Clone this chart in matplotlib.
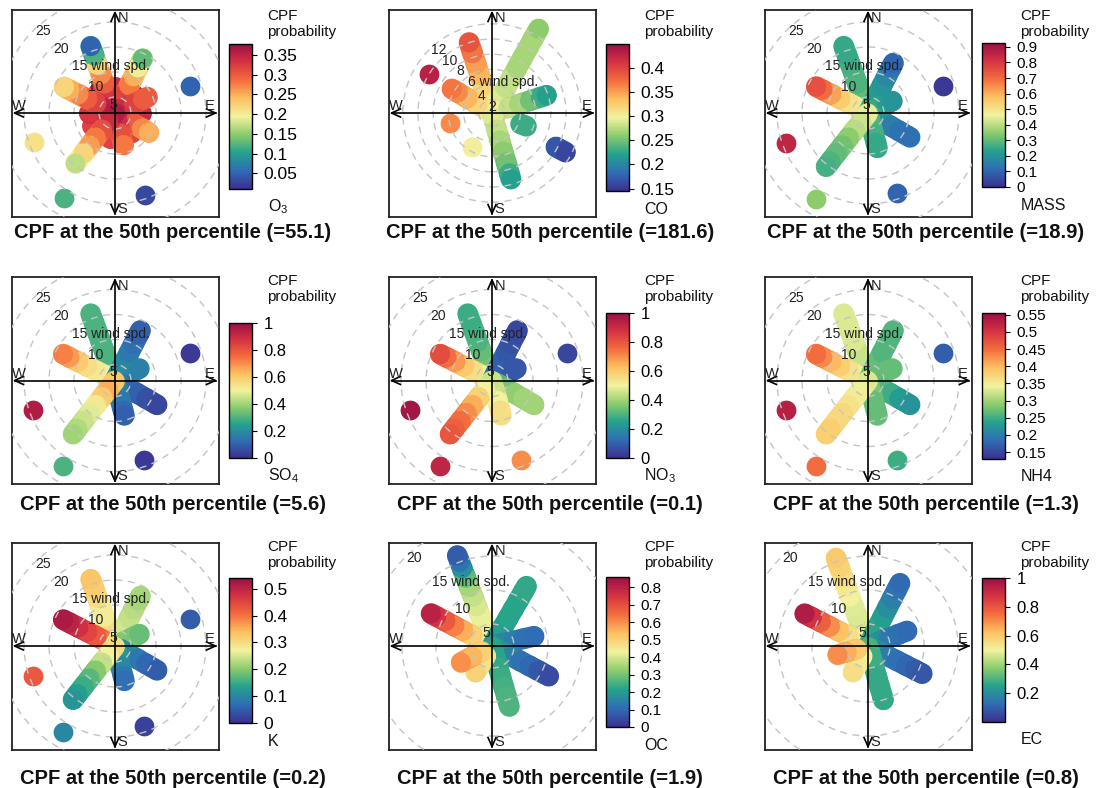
import matplotlib
matplotlib.use("Agg")
import matplotlib.pyplot as plt
import numpy as np
from matplotlib.colors import LinearSegmentedColormap, Normalize
from matplotlib.cm import ScalarMappable
from matplotlib.collections import LineCollection
from matplotlib.patches import Circle

plt.rcParams["font.family"] = ["Liberation Sans", "DejaVu Sans"]
plt.rcParams["mathtext.fontset"] = "custom"
plt.rcParams["mathtext.rm"] = "Liberation Sans"
plt.rcParams["mathtext.default"] = "regular"

# ---- data: wind direction (deg), wind speed samples, CPF probability ----
# shared ray layout for MASS, SO4, NO3, NH4, K
RAY_DIR_A = [340, 297, 27, 64, 120, 165, 218, 70, 250, 160, 211]
RAY_WS_A = [
    [2, 4, 6, 8, 10, 12, 14, 16],
    [2, 4, 6, 8, 10, 12, 13.4],
    [2, 4, 6, 8, 10, 12, 13],
    [2, 4, 6, 7.2],
    [3, 5, 7, 9, 11.5],
    [2, 4, 6, 8, 9],
    [2, 4, 6, 8, 10, 12, 14, 15.4],
    [17.8], [19.2], [18.8], [21.8],
]

MASS_CPF = [
    [0.32, 0.30, 0.30, 0.28, 0.28, 0.27, 0.25, 0.25],
    [0.40, 0.45, 0.50, 0.55, 0.62, 0.70, 0.75],
    [0.28, 0.25, 0.22, 0.20, 0.17, 0.13, 0.10],
    [0.28, 0.25, 0.22, 0.20],
    [0.25, 0.20, 0.15, 0.13, 0.12],
    [0.30, 0.28, 0.27, 0.25, 0.25],
    [0.45, 0.42, 0.40, 0.35, 0.32, 0.30, 0.28, 0.27],
    [0.02], [0.85], [0.10], [0.35],
]
SO4_CPF = [
    [0.35, 0.32, 0.30, 0.30, 0.30, 0.30, 0.30, 0.30],
    [0.45, 0.50, 0.52, 0.55, 0.60, 0.68, 0.72],
    [0.22, 0.20, 0.18, 0.15, 0.13, 0.10, 0.10],
    [0.22, 0.20, 0.18, 0.17],
    [0.15, 0.12, 0.10, 0.07, 0.05],
    [0.20, 0.18, 0.15, 0.12, 0.10],
    [0.60, 0.65, 0.60, 0.52, 0.48, 0.45, 0.42, 0.40],
    [0.02], [0.95], [0.02], [0.30],
]
NO3_CPF = [
    [0.45, 0.40, 0.35, 0.33, 0.30, 0.30, 0.28, 0.28],
    [0.45, 0.50, 0.55, 0.60, 0.68, 0.75, 0.82],
    [0.15, 0.12, 0.10, 0.08, 0.07, 0.06, 0.05],
    [0.12, 0.10, 0.08, 0.08],
    [0.30, 0.35, 0.38, 0.40, 0.40],
    [0.40, 0.45, 0.50, 0.55, 0.55],
    [0.45, 0.50, 0.58, 0.65, 0.70, 0.75, 0.78, 0.80],
    [0.05], [0.98], [0.70], [0.92],
]
NH4_CPF = [
    [0.32, 0.32, 0.32, 0.32, 0.33, 0.33, 0.33, 0.33],
    [0.33, 0.34, 0.36, 0.38, 0.40, 0.43, 0.45],
    [0.28, 0.27, 0.27, 0.26, 0.26, 0.26, 0.26],
    [0.28, 0.27, 0.27, 0.27],
    [0.27, 0.26, 0.25, 0.23, 0.22],
    [0.28, 0.28, 0.27, 0.27, 0.27],
    [0.33, 0.34, 0.35, 0.36, 0.37, 0.37, 0.38, 0.38],
    [0.17], [0.53], [0.25], [0.45],
]
K_CPF = [
    [0.38, 0.35, 0.30, 0.28, 0.28, 0.30, 0.32, 0.33],
    [0.38, 0.40, 0.43, 0.45, 0.48, 0.50, 0.52],
    [0.28, 0.27, 0.25, 0.24, 0.23, 0.22, 0.22],
    [0.22, 0.20, 0.19, 0.18],
    [0.12, 0.10, 0.08, 0.06, 0.05],
    [0.15, 0.12, 0.10, 0.08, 0.07],
    [0.30, 0.27, 0.24, 0.20, 0.17, 0.15, 0.13, 0.12],
    [0.05], [0.43], [0.02], [0.10],
]

# O3: core directions first, then the long rays, then isolated cells
O3_DIR = [0, 45, 90, 140, 190, 240, 270, 320,
          340, 297, 27, 64, 120, 165, 218,
          70, 250, 160, 211]
O3_WS = [
    [2, 4, 6, 7], [2, 4, 6, 7], [2, 4, 6, 7], [2, 4, 6, 7],
    [2, 4, 6, 7], [2, 4, 6, 7], [2, 4, 6, 7], [2, 4, 6, 7],
    [2, 4, 6, 8, 10, 12, 14, 16],
    [2, 4, 6, 8, 10, 12, 13.2],
    [2, 4, 6, 8, 10, 12, 14],
    [2, 4, 6, 8, 9],
    [2, 4, 6, 8, 9.6],
    [2, 4, 6, 8.4],
    [2, 4, 6, 8, 10, 12, 14.6],
    [17.8], [19.0], [19.2], [21.7],
]
O3_CPF = [
    [0.37, 0.37, 0.35, 0.34], [0.37, 0.37, 0.36, 0.35],
    [0.37, 0.36, 0.35, 0.34], [0.36, 0.35, 0.33, 0.32],
    [0.36, 0.35, 0.33, 0.32], [0.36, 0.34, 0.33, 0.32],
    [0.36, 0.35, 0.34, 0.33], [0.37, 0.36, 0.34, 0.33],
    [0.37, 0.36, 0.33, 0.30, 0.27, 0.22, 0.12, 0.05],
    [0.37, 0.35, 0.32, 0.30, 0.27, 0.25, 0.22],
    [0.37, 0.35, 0.32, 0.28, 0.25, 0.20, 0.13],
    [0.37, 0.34, 0.32, 0.30, 0.30],
    [0.36, 0.33, 0.30, 0.27, 0.25],
    [0.36, 0.34, 0.31, 0.28],
    [0.36, 0.34, 0.31, 0.28, 0.26, 0.22, 0.17],
    [0.05], [0.21], [0.03], [0.12],
]

CO_DIR = [342, 29, 301, 72, 164, 111, 118, 210, 256, 302]
CO_WS = [
    [1, 2.5, 4, 5.5, 7, 8.5, 10],
    [1, 2.5, 4, 5.5, 7, 8.5, 10, 11.5, 12.9],
    [1, 2.5, 4, 5.5, 6.4],
    [1, 2.5, 4, 5.5, 7, 7.8],
    [1, 2.5, 4, 5.5, 7, 8.5, 9.3],
    [4.3, 5.1],
    [9.8, 11.2],
    [5.4], [5.9], [10.0],
]
CO_CPF = [
    [0.30, 0.31, 0.32, 0.34, 0.35, 0.37, 0.39],
    [0.30, 0.29, 0.28, 0.28, 0.27, 0.27, 0.27, 0.27, 0.26],
    [0.31, 0.32, 0.34, 0.36, 0.37],
    [0.30, 0.28, 0.27, 0.25, 0.23, 0.22],
    [0.29, 0.28, 0.27, 0.26, 0.25, 0.23, 0.22],
    [0.23, 0.23],
    [0.17, 0.16],
    [0.30], [0.36], [0.43],
]

OC_DIR = [339, 298, 30, 77, 118, 164, 212, 242]
OC_WS = [
    [2, 3.5, 5, 6.5, 8, 9.5, 11, 12.5, 14, 15, 16],
    [2, 3.5, 5, 6.5, 8, 9.5, 11, 11.9],
    [2, 3.5, 5, 6.5, 8, 9.5, 11, 11.9],
    [2, 3.5, 5, 6.5, 8.1],
    [2, 3.5, 5, 6.5, 8, 9.5, 11.2],
    [2, 3.5, 5, 6.5, 8, 9.5, 11],
    [3.5, 5, 6.3],
    [3.5, 5, 6.9],
]
OC_CPF = [
    [0.40, 0.42, 0.42, 0.42, 0.40, 0.38, 0.35, 0.28, 0.18, 0.12, 0.08],
    [0.42, 0.45, 0.50, 0.56, 0.62, 0.68, 0.75, 0.80],
    [0.20, 0.20, 0.21, 0.22, 0.22, 0.22, 0.23, 0.23],
    [0.18, 0.16, 0.14, 0.12, 0.11],
    [0.20, 0.18, 0.15, 0.12, 0.10, 0.07, 0.05],
    [0.22, 0.22, 0.23, 0.24, 0.25, 0.26, 0.26],
    [0.45, 0.47, 0.50],
    [0.50, 0.55, 0.60],
]

EC_DIR = [340, 297, 27, 69, 117, 164, 210, 254]
EC_WS = [
    [2, 3.5, 5, 6.5, 8, 9.5, 11, 12.5, 14, 15.5],
    [2, 3.5, 5, 6.5, 8, 9.5, 11, 12.2],
    [2, 3.5, 5, 6.5, 8, 9.5, 11, 12.1],
    [2, 3.5, 5, 6.5, 7.9],
    [2, 3.5, 5, 6.5, 8, 9.5, 10.7],
    [2, 3.5, 5, 6.5, 8, 9.5, 10],
    [3.5, 5, 6.2],
    [3.5, 5, 6.4],
]
EC_CPF = [
    [0.45, 0.45, 0.46, 0.47, 0.48, 0.50, 0.52, 0.55, 0.58, 0.60],
    [0.45, 0.50, 0.55, 0.62, 0.70, 0.78, 0.88, 0.95],
    [0.30, 0.28, 0.26, 0.24, 0.20, 0.17, 0.14, 0.12],
    [0.25, 0.20, 0.16, 0.13, 0.12],
    [0.25, 0.20, 0.16, 0.13, 0.11, 0.09, 0.08],
    [0.30, 0.28, 0.28, 0.27, 0.27, 0.27, 0.27],
    [0.50, 0.52, 0.55],
    [0.60, 0.65, 0.70],
]

RINGS_A = [5, 10, 15, 20, 25]
RINGS_CO = [2, 4, 6, 8, 10, 12]
RINGS_C = [5, 10, 15, 20]

NAMES = ["O$_3$", "CO", "MASS", "SO$_4$", "NO$_3$", "NH4", "K", "OC", "EC"]
PCTL = ["55.1", "181.6", "18.9", "5.6", "0.1", "1.3", "0.2", "1.9", "0.8"]
CB_RANGE = [(0.01, 0.378), (0.145, 0.45), (0, 0.925), (0, 1), (0, 1),
            (0.13, 0.555), (0, 0.54), (0, 0.86), (0, 1)]
CB_TICKS = [
    [0.05, 0.1, 0.15, 0.2, 0.25, 0.3, 0.35],
    [0.15, 0.2, 0.25, 0.3, 0.35, 0.4],
    [0, 0.1, 0.2, 0.3, 0.4, 0.5, 0.6, 0.7, 0.8, 0.9],
    [0, 0.2, 0.4, 0.6, 0.8, 1],
    [0, 0.2, 0.4, 0.6, 0.8, 1],
    [0.15, 0.2, 0.25, 0.3, 0.35, 0.4, 0.45, 0.5, 0.55],
    [0, 0.1, 0.2, 0.3, 0.4, 0.5],
    [0, 0.1, 0.2, 0.3, 0.4, 0.5, 0.6, 0.7, 0.8],
    [0.2, 0.4, 0.6, 0.8, 1],
]

panels = [
    (O3_DIR, O3_WS, O3_CPF, RINGS_A, 1.8, 5.0),
    (CO_DIR, CO_WS, CO_CPF, RINGS_CO, 0.26, 7.6),
    (RAY_DIR_A, RAY_WS_A, MASS_CPF, RINGS_A, 1.8, 5.0),
    (RAY_DIR_A, RAY_WS_A, SO4_CPF, RINGS_A, 1.8, 5.0),
    (RAY_DIR_A, RAY_WS_A, NO3_CPF, RINGS_A, 1.8, 5.0),
    (RAY_DIR_A, RAY_WS_A, NH4_CPF, RINGS_A, 1.8, 5.0),
    (RAY_DIR_A, RAY_WS_A, K_CPF, RINGS_A, 1.8, 5.0),
    (OC_DIR, OC_WS, OC_CPF, RINGS_C, 1.76, 6.8),
    (EC_DIR, EC_WS, EC_CPF, RINGS_C, 1.76, 6.8),
]

# ---- layout (pixels) ----
W, H = 1104, 788
HALF = 103.5
BAND = 15.0  # ray width in points (~21 px)
COL_CX = [115, 492, 868]
ROW_CY = [113, 380.5, 646]
CB_Y = [(44, 189), (44, 191), (43, 187),
        (323, 458), (313, 458), (313, 459),
        (578, 723), (577, 727), (578, 722)]
CB_TITLE_Y = [24, 289, 555]
TITLE_Y = [233, 505, 778]
TICK_FS = [12.5, 12.5, 11, 12, 12, 11, 12.5, 11, 12]

cmap = LinearSegmentedColormap.from_list(
    "cpf", ["#3d2f8f", "#2f6eb5", "#24a28c", "#8ccc6c", "#f2f29e",
            "#fdc060", "#f46d3e", "#d53342", "#9a0f46"])

fig = plt.figure(figsize=(W / 100, H / 100), dpi=100)


def px_rect(x0, y0, w, h):
    return [x0 / W, 1 - (y0 + h) / H, w / W, h / H]


for i, (dirs, wss, cpf, rings, ws0, scale) in enumerate(panels):
    row, col = divmod(i, 3)
    cx, cy = COL_CX[col], ROW_CY[row]
    ax = fig.add_axes(px_rect(cx - HALF, cy - HALF, 2 * HALF, 2 * HALF))
    lim = HALF / scale
    p = 1.0 / scale  # data units per pixel
    ax.set_xlim(-lim, lim)
    ax.set_ylim(-lim, lim)
    ax.set_xticks([])
    ax.set_yticks([])
    for sp in ax.spines.values():
        sp.set_linewidth(1.3)
        sp.set_color("#222222")
    vmin, vmax = CB_RANGE[i]
    norm = Normalize(vmin, vmax)

    # each ray: thick band between samples, sample colours on top
    for d, w, v in zip(dirs, wss, cpf):
        r = np.array(w) - ws0
        x = r * np.sin(np.radians(d))
        y = r * np.cos(np.radians(d))
        v = np.array(v)
        if len(r) > 1:
            segs = np.stack([np.column_stack([x[:-1], y[:-1]]),
                             np.column_stack([x[1:], y[1:]])], axis=1)
            lc = LineCollection(segs, cmap=cmap, norm=norm, linewidths=BAND,
                                capstyle="round", zorder=2)
            lc.set_array((v[:-1] + v[1:]) / 2)
            ax.add_collection(lc)
        ax.scatter(x, y, c=v, cmap=cmap, norm=norm, s=BAND ** 2 * 0.9,
                   linewidths=0, zorder=2)

    for k, rg in enumerate(rings):
        ax.add_patch(Circle((0, 0), rg - ws0, fill=False, ec="#c4c4c4",
                            lw=1.0, ls=(0, (5, 4)), zorder=3))
        dd = (rg - ws0) / np.sqrt(2)
        lx, ly = -dd + 10 * p, dd - (3 * p if k < 2 else 0)
        if k == 2:
            ax.text(lx - 3.4 * len(str(rg)) * p, ly, f"{rg} wind spd.",
                    ha="left", va="center", fontsize=10, color="#222222",
                    zorder=5)
        else:
            ax.text(lx, ly, str(rg), ha="center", va="center",
                    fontsize=10, color="#222222", zorder=5)

    L = lim - 3 * p
    ax.plot([-L, L], [0, 0], color="black", lw=1.2, zorder=4)
    ax.plot([0, 0], [-L, L], color="black", lw=1.2, zorder=4)
    for ux, uy in [(0, 1), (0, -1), (1, 0), (-1, 0)]:
        tx, ty = ux * L, uy * L
        qx, qy = -uy, ux
        ax.plot([tx - ux * 9 * p + qx * 4 * p, tx, tx - ux * 9 * p - qx * 4 * p],
                [ty - uy * 9 * p + qy * 4 * p, ty, ty - uy * 9 * p - qy * 4 * p],
                color="black", lw=1.2, zorder=4)
    for lab, (ox, oy) in zip("NSWE", [(8, 95), (7, -96), (-96, 7), (95, 7)]):
        ax.text(ox * p, oy * p, lab, ha="center", va="center", fontsize=10.5,
                color="#222222", zorder=5)

    # colorbar
    cb_top, cb_bot = CB_Y[i]
    cb_x = cx + HALF + 10
    cax = fig.add_axes(px_rect(cb_x, cb_top, 23, cb_bot - cb_top))
    cb = fig.colorbar(ScalarMappable(norm=norm, cmap=cmap), cax=cax)
    cb.set_ticks(CB_TICKS[i])
    cb.set_ticklabels([f"{t:g}" for t in CB_TICKS[i]])
    cb.outline.set_linewidth(1.0)
    cax.tick_params(length=3.6, width=0.8, pad=5, labelsize=TICK_FS[i])
    tx0 = (cb_x + 23 + 16) / W
    fig.text(tx0, 1 - CB_TITLE_Y[row] / H, "CPF\nprobability", ha="left",
             va="center", fontsize=11, linespacing=1.1, color="#111111")
    fig.text(tx0, 1 - (cb_bot + 18) / H, NAMES[i], ha="left", va="center",
             fontsize=11.5, color="#111111")

    fig.text((cx + 58) / W, 1 - TITLE_Y[row] / H,
             f"CPF at the 50th percentile (={PCTL[i]})", ha="center",
             va="center", fontsize=14.5, fontweight="bold", color="#111111")

fig.savefig("out.png", dpi=100)
